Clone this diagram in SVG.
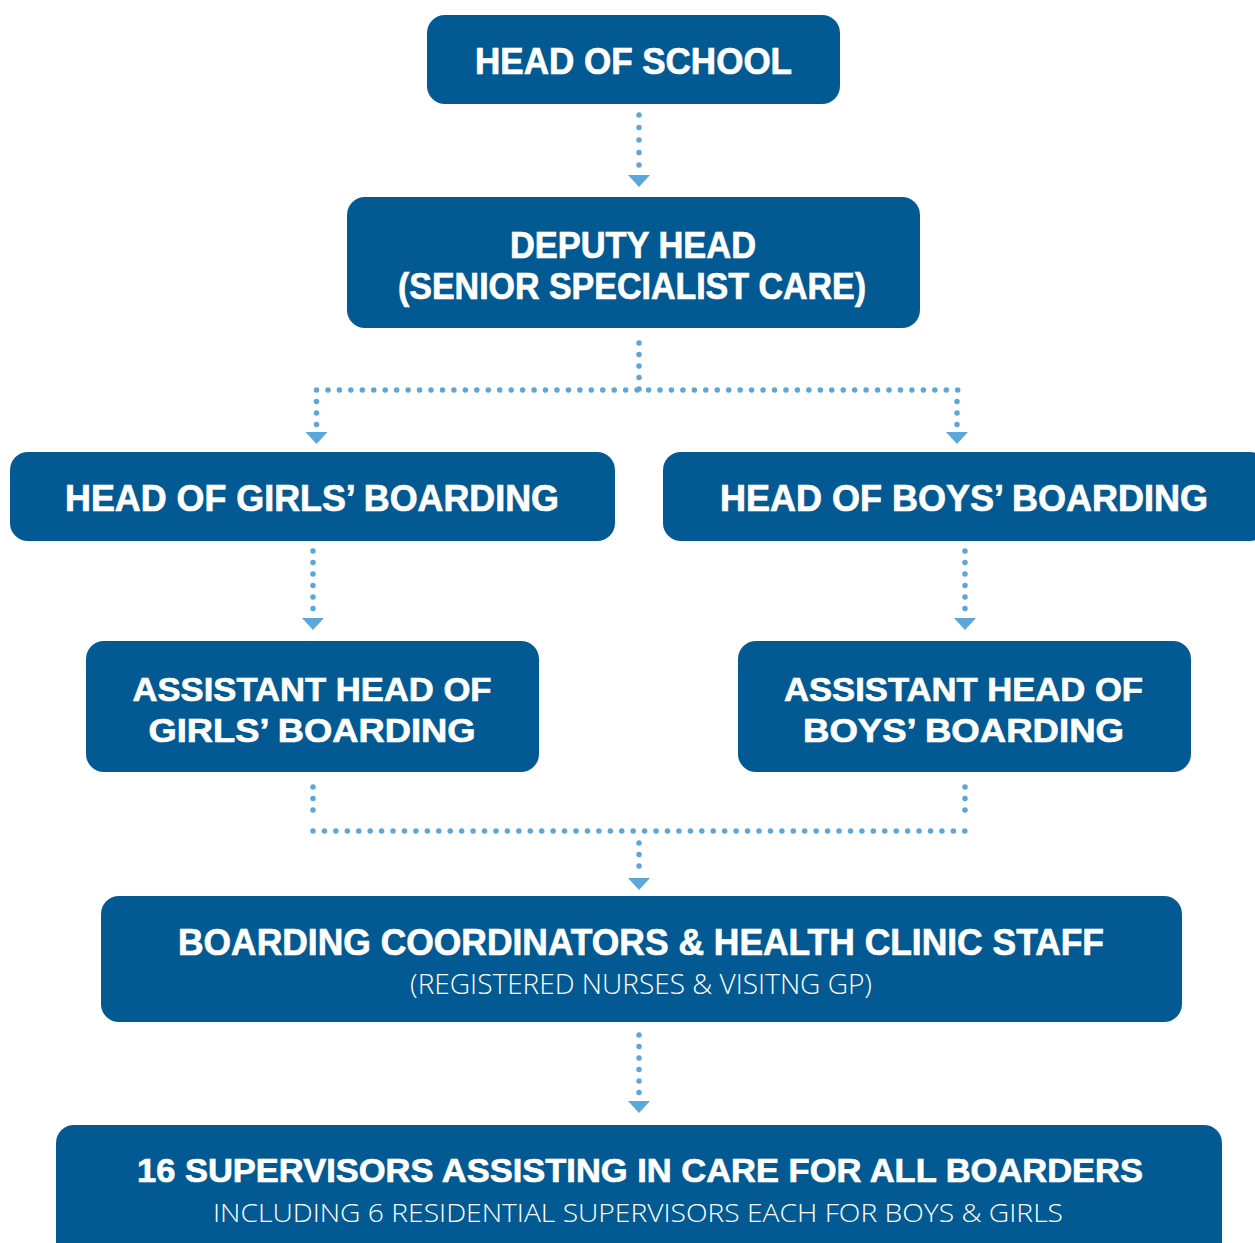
<svg xmlns="http://www.w3.org/2000/svg" width="1255" height="1243" viewBox="0 0 1255 1243">
  <style>
    .box { fill: #035a92; }
    .title { font-family: "Liberation Sans", Arial, sans-serif; font-weight: 700; fill: #ffffff; stroke: #ffffff; stroke-width: 0.7; text-anchor: middle; }
    .sub { font-family: "Open Sans", "Liberation Sans", sans-serif; font-weight: 300; fill: #ffffff; text-anchor: middle; }
    .dots { fill: none; stroke: #5ba7da; stroke-width: 5.5; stroke-linecap: round; stroke-dasharray: 0 11.5; }
    .dots-wide { stroke-dasharray: 0 12.5; }
    .span-top { stroke-dasharray: 0 11.45; }
    .span-mid { stroke-dasharray: 0 11.435; }
    .head { fill: #5ba7da; }
  </style>
  <rect width="1255" height="1243" fill="#ffffff"/>

  <!-- connectors: dotted lines with triangular heads -->
  <g id="connectors">
    <path class="dots dots-wide" d="M639 115 V168"/>
    <polygon class="head" points="628,175 650,175 639,187"/>

    <path class="dots" d="M639 343 V390"/>
    <path class="dots span-top" d="M316.5 390 H958"/>
    <path class="dots" d="M316.5 401.5 V425"/>
    <path class="dots" d="M957 401.5 V425"/>
    <polygon class="head" points="305.5,432 327.5,432 316.5,444"/>
    <polygon class="head" points="946,432 968,432 957,444"/>

    <path class="dots" d="M313 551 V611"/>
    <polygon class="head" points="302,618 324,618 313,630"/>
    <path class="dots" d="M965 551 V611"/>
    <polygon class="head" points="954,618 976,618 965,630"/>

    <path class="dots" d="M313 787 V821"/>
    <path class="dots" d="M965 787 V821"/>
    <path class="dots span-mid" d="M313 831 H965"/>
    <path class="dots" d="M639 843 V870"/>
    <polygon class="head" points="628,878 650,878 639,890"/>

    <path class="dots" d="M639 1035 V1094"/>
    <polygon class="head" points="628,1101 650,1101 639,1113"/>
  </g>

  <g id="head-of-school">
    <rect class="box" x="427" y="15" width="413" height="89" rx="18"/>
    <text class="title" x="633.5" y="74" font-size="36" textLength="317" lengthAdjust="spacingAndGlyphs">HEAD OF SCHOOL</text>
  </g>

  <g id="deputy-head">
    <rect class="box" x="347" y="197" width="573" height="131" rx="18"/>
    <text class="title" x="633" y="258" font-size="36" textLength="246" lengthAdjust="spacingAndGlyphs">DEPUTY HEAD</text>
    <text class="title" x="632" y="299" font-size="36" textLength="468" lengthAdjust="spacingAndGlyphs">(SENIOR SPECIALIST CARE)</text>
  </g>

  <g id="head-girls-boarding">
    <rect class="box" x="10" y="452" width="605" height="89" rx="18"/>
    <text class="title" x="312" y="511" font-size="36" textLength="494" lengthAdjust="spacingAndGlyphs">HEAD OF GIRLS’ BOARDING</text>
  </g>

  <g id="head-boys-boarding">
    <rect class="box" x="663" y="452" width="605" height="89" rx="18"/>
    <text class="title" x="964" y="511" font-size="36" textLength="488" lengthAdjust="spacingAndGlyphs">HEAD OF BOYS’ BOARDING</text>
  </g>

  <g id="assistant-girls-boarding">
    <rect class="box" x="86" y="641" width="453" height="131" rx="18"/>
    <text class="title" x="312" y="701" font-size="34" textLength="359" lengthAdjust="spacingAndGlyphs">ASSISTANT HEAD OF</text>
    <text class="title" x="312" y="742" font-size="34" textLength="327" lengthAdjust="spacingAndGlyphs">GIRLS’ BOARDING</text>
  </g>

  <g id="assistant-boys-boarding">
    <rect class="box" x="738" y="641" width="453" height="131" rx="18"/>
    <text class="title" x="963.5" y="701" font-size="34" textLength="359" lengthAdjust="spacingAndGlyphs">ASSISTANT HEAD OF</text>
    <text class="title" x="963.5" y="742" font-size="34" textLength="321" lengthAdjust="spacingAndGlyphs">BOYS’ BOARDING</text>
  </g>

  <g id="boarding-coordinators">
    <rect class="box" x="101" y="896" width="1081" height="126" rx="18"/>
    <text class="title" x="641" y="955" font-size="36" textLength="926" lengthAdjust="spacingAndGlyphs">BOARDING COORDINATORS &amp; HEALTH CLINIC STAFF</text>
    <text class="sub" x="641" y="994" font-size="27" textLength="462" lengthAdjust="spacingAndGlyphs">(REGISTERED NURSES &amp; VISITNG GP)</text>
  </g>

  <g id="supervisors">
    <rect class="box" x="56" y="1125" width="1166" height="140" rx="18"/>
    <text class="title" x="640" y="1182" font-size="33" textLength="1006" lengthAdjust="spacingAndGlyphs">16 SUPERVISORS ASSISTING IN CARE FOR ALL BOARDERS</text>
    <text class="sub" x="638" y="1222" font-size="26" textLength="850" lengthAdjust="spacingAndGlyphs">INCLUDING 6 RESIDENTIAL SUPERVISORS EACH FOR BOYS &amp; GIRLS</text>
  </g>
</svg>
